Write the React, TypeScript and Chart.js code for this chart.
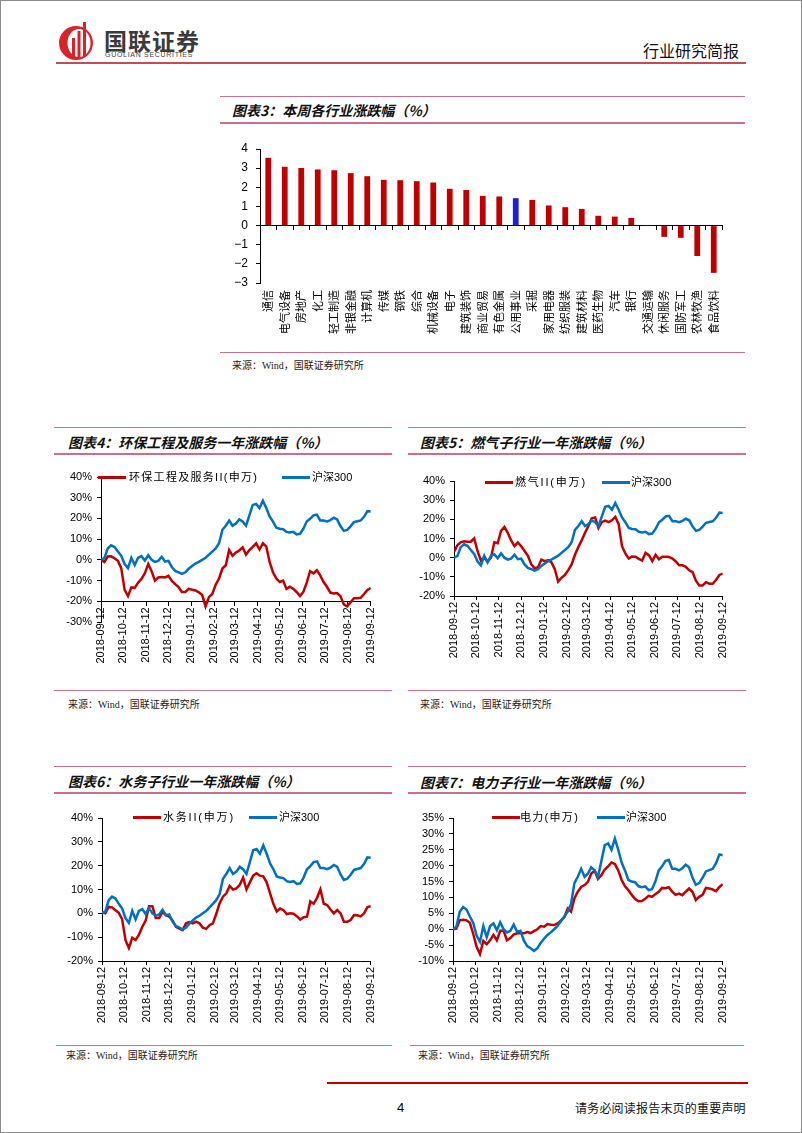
import React, { useEffect, useRef } from 'react';
import { Chart, registerables } from 'chart.js';
Chart.register(...registerables);

const FONT = '"Liberation Sans", "Noto Sans CJK SC", sans-serif';
const CJK = '"Noto Sans CJK SC", "Liberation Sans", sans-serif';
const SERIF = '"Liberation Serif", "Noto Sans CJK SC", serif';

const RED = '#c00000';
const BLUE = '#0070c0';
const BAR_BLUE = '#1e1ed2';
const RULE = '#c8708c';

// ---- Chart 3: weekly change by industry (%)
const INDUSTRIES = ['通信', '电气设备', '房地产', '化工', '轻工制造', '非银金融', '计算机', '传媒', '钢铁', '综合', '机械设备', '电子', '建筑装饰', '商业贸易', '有色金属', '公用事业', '采掘', '家用电器', '纺织服装', '建筑材料', '医药生物', '汽车', '银行', '交通运输', '休闲服务', '国防军工', '农林牧渔', '食品饮料'];
const WEEKLY_CHANGE = [3.54, 3.07, 3.01, 2.93, 2.89, 2.74, 2.58, 2.39, 2.37, 2.32, 2.25, 1.92, 1.86, 1.55, 1.52, 1.43, 1.34, 1.05, 0.96, 0.87, 0.51, 0.47, 0.4, 0.01, -0.59, -0.64, -1.59, -2.47];
const HIGHLIGHT = '公用事业';
const BAR_TICKS = [-3, -2, -1, 0, 1, 2, 3, 4];

// ---- One-year line charts
const MONTHS = ['2018-09-12', '2018-10-12', '2018-11-12', '2018-12-12', '2019-01-12', '2019-02-12', '2019-03-12', '2019-04-12', '2019-05-12', '2019-06-12', '2019-07-12', '2019-08-12', '2019-09-12'];
const TICKS_HUANBAO = [-30, -20, -10, 0, 10, 20, 30, 40];
const TICKS_RANQI = [-20, -10, 0, 10, 20, 30, 40];
const TICKS_SHUIWU = [-20, -10, 0, 10, 20, 30, 40];
const TICKS_DIANLI = [-10, -5, 0, 5, 10, 15, 20, 25, 30, 35];

const HS300 = [
  0, 0.8, 5.5, 7.0, 6.2, 4.0, 2.0, -2.0, -4.0, 1.0,
  -2.5, 1.0, 1.8, -0.3, 2.2, 0.0, -1.0, -0.5, 1.5, -0.8,
  -0.5, -3.5, -5.3, -6.0, -6.8, -6.0, -4.3, -3.0, -1.8, -1.0,
  0.0, 1.0, 2.5, 4.0, 5.5, 8.0, 14.5, 16.5, 19.0, 16.5,
  17.5, 19.5, 18.5, 16.5, 21.5, 26.5, 27.0, 25.0, 28.5, 25.0,
  21.0, 18.5, 15.5, 15.0, 14.8, 13.5, 13.2, 13.5, 12.3, 12.6,
  15.0, 18.5, 19.8, 21.5, 21.8, 19.0, 19.0, 18.5, 19.2, 20.3,
  19.5, 16.3, 14.0, 14.5, 16.2, 18.2, 18.6, 19.0, 20.8, 23.5,
  23.3,
];

const HUANBAO = [
  0, -1.0, 1.6, 1.7, 0.8, -0.5, -4.0, -14.5, -17.5, -13.3,
  -13.5, -11.0, -9.2, -6.5, -2.0, -5.5, -10.0, -8.5, -8.3, -8.5,
  -7.7, -10.2, -11.7, -13.2, -15.5, -15.5, -14.0, -14.4, -14.8, -15.7,
  -17.0, -22.5, -18.0, -16.5, -12.0, -9.0, -4.2, -2.6, 4.7, 2.0,
  3.5, 4.5, 6.0, 2.5, 4.7, 6.3, 8.0, 5.0, 8.0, 6.5,
  -1.0, -6.0, -9.0, -10.7, -10.0, -14.0, -13.0, -14.0, -15.5, -17.5,
  -15.5, -11.0, -5.5, -6.5, -5.0, -7.5, -10.7, -13.0, -15.8, -16.2,
  -16.0, -17.5, -21.5, -22.5, -20.5, -18.5, -18.5, -18.3, -16.5, -14.5,
  -13.6,
];

const RANQI = [
  3.0, 6.5, 8.0, 8.5, 8.3, 8.3, 10.0, 3.5, -1.5, 0.0,
  -2.0, 0.0, 8.0, 7.5, 14.0, 16.0, 13.0, 9.0, 6.0, 8.0,
  6.0, 3.5, 1.0, -3.5, -5.5, -5.0, -1.0, -1.8, -1.3, -2.5,
  -6.0, -12.5, -10.5, -9.0, -6.5, -3.5, 1.5, 5.5, 9.0, 13.0,
  16.5, 20.5, 21.0, 15.5, 18.5, 19.3, 18.5, 19.5, 21.3, 17.5,
  6.0, 2.2, -0.5, 0.6, 0.5, -0.6, -1.5, 2.5, 1.3, -1.8,
  1.5, -0.8, 0.5, 0.5, 0.4, -0.5, -2.0, -4.0, -4.0, -4.8,
  -6.6, -7.5, -12.0, -14.5, -14.5, -12.8, -13.6, -13.6, -11.5, -9.0,
  -8.3,
];

const SHUIWU = [
  0.5, 0.0, 2.7, 2.5, 1.3, 0.2, -2.5, -11.3, -14.5, -10.2,
  -11.2, -9.0, -5.6, -3.0, 3.0, 3.0, -2.0, -2.0, 0.5, -0.7,
  -1.4, -3.0, -5.7, -6.4, -7.0, -4.2, -3.7, -4.2, -3.5, -4.2,
  -6.0, -6.5, -5.0, -4.2, -0.3, 4.2, 7.0, 8.4, 11.5, 10.0,
  10.5, 12.0, 15.0, 10.0, 13.0, 15.8, 16.8, 15.8, 15.5, 13.0,
  8.5, 4.0, 0.8, 2.0, 1.3, -0.3, 0.0, -0.2, -1.2, -2.6,
  -1.6, -1.4, 5.0, 4.0, 6.5, 10.0, 4.0, 3.5, 1.6, 0.0,
  1.4, 0.0, -3.5, -3.5, -2.8, -0.7, -0.8, -1.3, 0.0, 2.6,
  3.0,
];

const DIANLI = [
  0, 0.2, 2.8, 3.0, 2.8, 2.0, -1.5, -5.5, -7.8, -3.7,
  -4.7, -3.5, -1.8, -3.5, -0.5, -0.5, -3.5, -2.8, -1.7, -1.3,
  -1.2, -1.3, -0.9, -1.2, -0.6, 0.0, 1.0, 0.8, 1.6, 1.4,
  1.3, 1.8, 2.7, 3.8, 6.5, 5.5, 9.7, 11.8, 13.3, 13.9,
  14.9, 17.5, 18.4, 15.8, 17.0, 18.8, 19.8, 21.0, 20.5, 18.5,
  15.5, 13.5, 12.3, 10.8, 9.5, 8.8, 8.9, 9.6, 10.5, 10.2,
  11.0, 11.8, 13.0, 12.9, 13.2, 11.8, 10.8, 11.2, 10.7, 11.8,
  12.8, 11.8, 9.2, 10.2, 10.8, 13.0, 12.8, 12.5, 12.0, 13.3,
  14.2,
];

const HS300_NAME = '沪深300';
const SOURCE = '来源：Wind，国联证券研究所';

function dayOffset(s: string): number {
  const [y, m, d] = s.split('-').map(Number);
  const [y0, m0, d0] = MONTHS[0].split('-').map(Number);
  return (Date.UTC(y, m - 1, d) - Date.UTC(y0, m0 - 1, d0)) / 86400000;
}

function ChartCanvas({ left, top, width, height, make }: { left: number; top: number; width: number; height: number; make: (c: HTMLCanvasElement) => Chart }) {
  const ref = useRef<HTMLCanvasElement>(null);
  useEffect(() => {
    const ch = make(ref.current!);
    return () => ch.destroy();
  }, []);
  return <canvas ref={ref} width={width} height={height} style={{ position: 'absolute', left, top, width, height }} />;
}

type LineCfg = {
  yWidth: number; xHeight: number; padTop: number; padRight: number; padBottom: number;
  yTicks: number[]; xAt?: number;
  name: string; values: number[];
};

function makeLine(cfg: LineCfg) {
  return (canvas: HTMLCanvasElement) => {
    const span = dayOffset(MONTHS[MONTHS.length - 1]);
    const toXY = (arr: number[]) => arr.map((v, i) => ({ x: (i * span) / (arr.length - 1), y: v }));
    const axisFont = { size: 11, family: FONT };
    return new Chart(canvas, {
      type: 'line',
      data: {
        datasets: [
          { label: cfg.name, data: toXY(cfg.values), borderColor: RED, backgroundColor: RED, borderWidth: 2.5, pointRadius: 0, order: 1 },
          { label: HS300_NAME, data: toXY(HS300), borderColor: BLUE, backgroundColor: BLUE, borderWidth: 2.5, pointRadius: 0, order: 0 },
        ],
      },
      options: {
        responsive: false,
        animation: false,
        layout: { padding: { top: cfg.padTop, right: cfg.padRight, left: 0, bottom: cfg.padBottom } },
        plugins: { legend: { display: false }, tooltip: { enabled: false } },
        scales: {
          x: {
            type: 'linear',
            min: 0,
            max: span,
            position: cfg.xAt !== undefined ? ({ y: cfg.xAt } as any) : 'bottom',
            afterBuildTicks: (s: any) => { s.ticks = MONTHS.map((m) => ({ value: dayOffset(m) })); },
            afterFit: (s: any) => { s.height = cfg.xHeight; },
            ticks: { autoSkip: false, minRotation: 90, maxRotation: 90, padding: 2, font: axisFont, color: '#000', callback: (_v: any, i: number) => MONTHS[i] },
            grid: { drawOnChartArea: false, tickLength: 4, color: '#000' },
            border: { color: '#000', width: 1 },
          },
          y: {
            min: cfg.yTicks[0],
            max: cfg.yTicks[cfg.yTicks.length - 1],
            afterFit: (s: any) => { s.width = cfg.yWidth; },
            afterBuildTicks: (s: any) => { s.ticks = cfg.yTicks.map((v) => ({ value: v })); },
            ticks: { autoSkip: false, padding: 5, font: axisFont, color: '#000', callback: (v: any) => `${v}%` },
            grid: { drawOnChartArea: false, tickLength: 4, color: '#000' },
            border: { color: '#000', width: 1 },
          },
        },
      } as any,
    });
  };
}

function makeBar(canvas: HTMLCanvasElement) {
  return new Chart(canvas, {
    type: 'bar',
    data: {
      labels: INDUSTRIES,
      datasets: [{
        data: WEEKLY_CHANGE,
        backgroundColor: INDUSTRIES.map((c) => (c === HIGHLIGHT ? BAR_BLUE : RED)),
        barPercentage: 0.35,
        categoryPercentage: 1,
      }],
    },
    options: {
      responsive: false,
      animation: false,
      layout: { padding: { top: 16, right: 13, left: 0, bottom: 0 } },
      plugins: { legend: { display: false }, tooltip: { enabled: false } },
      scales: {
        x: {
          afterFit: (s: any) => { s.height = 60; },
          grid: { display: false, drawTicks: false },
          border: { display: false },
          ticks: { autoSkip: false, minRotation: 90, maxRotation: 90, padding: 7, font: { size: 11, family: CJK }, color: '#000' },
        },
        x2: {
          axis: 'x',
          type: 'category',
          position: { y: 0 },
          offset: true,
          afterFit: (s: any) => { s.height = 0; },
          grid: { offset: true, drawOnChartArea: false, tickLength: 4, color: '#000' },
          border: { color: '#000', width: 1 },
          ticks: { display: false },
        },
        y: {
          min: BAR_TICKS[0],
          max: BAR_TICKS[BAR_TICKS.length - 1],
          afterFit: (s: any) => { s.width = 35; },
          afterBuildTicks: (s: any) => { s.ticks = BAR_TICKS.map((v) => ({ value: v })); },
          ticks: { autoSkip: false, padding: 8, font: { size: 12, family: FONT }, color: '#000', callback: (v: any) => (v < 0 ? '\u2212' + Math.abs(v) : String(v)) },
          grid: { drawOnChartArea: false, tickLength: 4, color: '#000' },
          border: { color: '#000', width: 1 },
        },
      },
    } as any,
  });
}

const Txt = ({ x, y, size, children, style }: { x: number; y: number; size: number; children: any; style?: any }) => (
  <div style={{ position: 'absolute', left: x, top: y - size, height: size * 2, lineHeight: `${size * 2}px`, fontSize: size, whiteSpace: 'nowrap', color: '#000', ...style }}>{children}</div>
);

const HLine = ({ x, y, w, h = 1, color = RULE }: { x: number; y: number; w: number; h?: number; color?: string }) => (
  <div style={{ position: 'absolute', left: x, top: y, width: w, height: h, background: color }} />
);

const LegendItem = ({ x, tx, y, color, text, ls = 0 }: { x: number; tx: number; y: number; color: string; text: string; ls?: number }) => (
  <>
    <div style={{ position: 'absolute', left: x, top: y - 1.5, width: 28, height: 3, background: color }} />
    <Txt x={tx} y={y} size={11} style={{ fontFamily: FONT, letterSpacing: ls }}>{text}</Txt>
  </>
);

const Title = ({ x, y, text }: { x: number; y: number; text: string }) => (
  <Txt x={x} y={y} size={14} style={{ fontFamily: CJK, fontWeight: 700, fontStyle: 'italic', color: '#111' }}>{text}</Txt>
);

const Source = ({ x, y }: { x: number; y: number }) => (
  <Txt x={x} y={y} size={10} style={{ fontFamily: SERIF, color: '#222' }}>{SOURCE}</Txt>
);

export default function App() {
  return (
    <div style={{ position: 'absolute', left: 0, top: 0, width: 802, height: 1133, background: '#fff', overflow: 'hidden', fontFamily: CJK }}>
      {/* header */}
      <svg width="40" height="42" viewBox="0 0 40 42" style={{ position: 'absolute', left: 57, top: 20 }}>
        <circle cx="19" cy="23" r="17" fill="#d8232a" />
        <ellipse cx="22" cy="23" rx="11.5" ry="14" fill="#fff" />
        <rect x="15" y="18" width="3" height="19" fill="#d8232a" />
        <rect x="20.5" y="11" width="3" height="26" fill="#d8232a" />
        <rect x="26" y="2" width="3" height="35" fill="#d8232a" />
      </svg>
      <Txt x={104} y={40} size={23} style={{ fontFamily: CJK, fontWeight: 700, color: '#3a3a3a', letterSpacing: 1 }}>国联证券</Txt>
      <Txt x={105} y={55} size={7} style={{ fontFamily: FONT, color: '#444', letterSpacing: 0.7 }}>GUOLIAN SECURITIES</Txt>
      <Txt x={643} y={50} size={16} style={{ fontFamily: CJK, color: '#111' }}>行业研究简报</Txt>
      <HLine x={56} y={62} w={690} h={2} color="#c0504d" />

      {/* chart 3 */}
      <HLine x={220} y={96} w={525} />
      <Title x={232} y={110} text="图表3：本周各行业涨跌幅（%）" />
      <HLine x={220} y={122} w={525} h={2} />
      <ChartCanvas left={225} top={133} width={510} height={210} make={makeBar} />
      <HLine x={220} y={352} w={525} />
      <Source x={232} y={366} />

      {/* chart 4 */}
      <HLine x={54} y={427} w={338} />
      <Title x={68} y={442} text="图表4：环保工程及服务一年涨跌幅（%）" />
      <HLine x={54} y={453} w={338} h={2} />
      <ChartCanvas left={56} top={461} width={330} height={211}
        make={makeLine({ yWidth: 45, xHeight: 70, padTop: 16, padRight: 10, padBottom: 50, yTicks: TICKS_HUANBAO, xAt: -20, name: '环保工程及服务II(申万)', values: HUANBAO })} />
      <LegendItem x={98} tx={129} y={477} color={RED} text="环保工程及服务II(申万)" ls={1.3} />
      <LegendItem x={282} tx={312} y={477} color={BLUE} text={HS300_NAME} />
      <HLine x={54} y={690} w={338} />
      <Source x={68} y={705} />

      {/* chart 5 */}
      <HLine x={408} y={427} w={338} />
      <Title x={420} y={442} text="图表5：燃气子行业一年涨跌幅（%）" />
      <HLine x={408} y={453} w={338} h={2} />
      <ChartCanvas left={408} top={465} width={330} height={201}
        make={makeLine({ yWidth: 46, xHeight: 70, padTop: 16, padRight: 10, padBottom: 0, yTicks: TICKS_RANQI, name: '燃气II(申万)', values: RANQI })} />
      <LegendItem x={485} tx={515} y={482} color={RED} text="燃气II(申万)" ls={1.8} />
      <LegendItem x={602} tx={631} y={482} color={BLUE} text={HS300_NAME} />
      <HLine x={408} y={690} w={338} />
      <Source x={420} y={705} />

      {/* chart 6 */}
      <HLine x={54} y={766} w={338} />
      <Title x={68} y={781} text="图表6：水务子行业一年涨跌幅（%）" />
      <HLine x={54} y={792} w={338} h={2} />
      <ChartCanvas left={56} top={802} width={330} height={229}
        make={makeLine({ yWidth: 46, xHeight: 70, padTop: 16, padRight: 10, padBottom: 0, yTicks: TICKS_SHUIWU, name: '水务II(申万)', values: SHUIWU })} />
      <LegendItem x={133} tx={163} y={817} color={RED} text="水务II(申万)" ls={1.8} />
      <LegendItem x={249} tx={279} y={817} color={BLUE} text={HS300_NAME} />
      <HLine x={56} y={1045} w={336} />
      <Source x={66} y={1056} />

      {/* chart 7 */}
      <HLine x={408} y={766} w={338} />
      <Title x={420} y={782} text="图表7：电力子行业一年涨跌幅（%）" />
      <HLine x={408} y={792} w={338} h={2} />
      <ChartCanvas left={408} top={802} width={330} height={229}
        make={makeLine({ yWidth: 45, xHeight: 70, padTop: 16, padRight: 10, padBottom: 0, yTicks: TICKS_DIANLI, name: '电力(申万)', values: DIANLI })} />
      <LegendItem x={492} tx={520} y={817} color={RED} text="电力(申万)" ls={1.3} />
      <LegendItem x={597} tx={626} y={817} color={BLUE} text={HS300_NAME} />
      <HLine x={410} y={1045} w={334} />
      <Source x={418} y={1056} />

      {/* footer */}
      <HLine x={327} y={1082} w={421} h={2} color="#c00000" />
      <Txt x={397} y={1108} size={13} style={{ fontFamily: FONT }}>4</Txt>
      <Txt x={575} y={1108} size={12} style={{ fontFamily: CJK, color: '#111', letterSpacing: 0.2 }}>请务必阅读报告末页的重要声明</Txt>

      {/* page border */}
      <div style={{ position: 'absolute', left: 0, top: 0, width: 802, height: 1133, boxSizing: 'border-box', border: '1px solid #8c8c8c', pointerEvents: 'none' }} />
    </div>
  );
}
